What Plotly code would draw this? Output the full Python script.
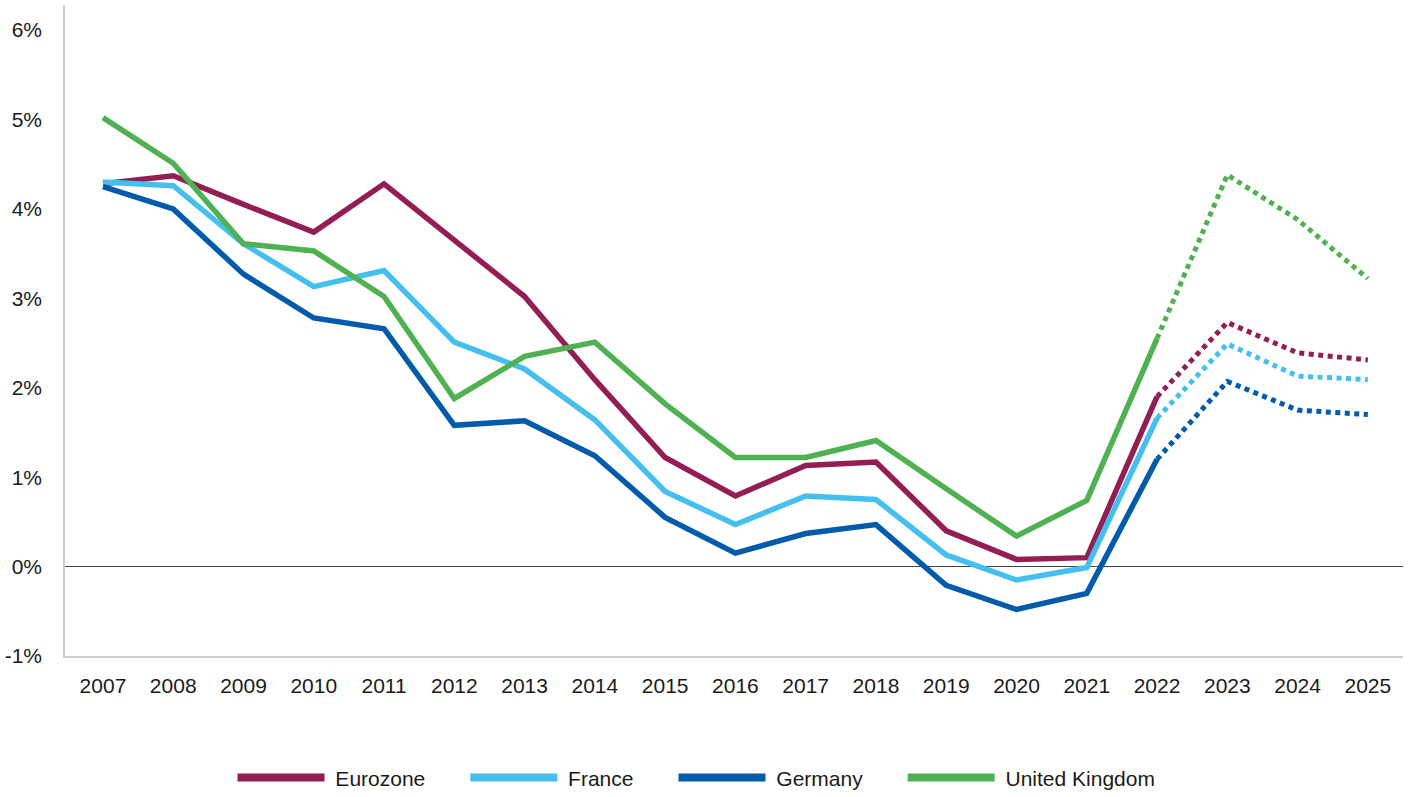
import plotly.graph_objects as go

years = list(range(2007, 2026))
year_labels = [str(y) for y in years]

eurozone = [4.28, 4.37, 4.05, 3.74, 4.28, 3.65, 3.02, 2.09, 1.22, 0.79, 1.13, 1.17, 0.40, 0.08, 0.10, 1.90, 2.73, 2.39, 2.31]
france   = [4.30, 4.26, 3.61, 3.13, 3.31, 2.51, 2.21, 1.64, 0.84, 0.47, 0.79, 0.75, 0.13, -0.15, -0.01, 1.66, 2.49, 2.13, 2.09]
germany  = [4.25, 4.00, 3.27, 2.78, 2.66, 1.58, 1.63, 1.24, 0.55, 0.15, 0.37, 0.47, -0.21, -0.48, -0.30, 1.20, 2.07, 1.75, 1.70]
uk       = [5.02, 4.51, 3.61, 3.53, 3.02, 1.88, 2.35, 2.51, 1.82, 1.22, 1.22, 1.41, 0.87, 0.34, 0.74, 2.55, 4.38, 3.88, 3.22]

series_names = ["Eurozone", "France", "Germany", "United Kingdom"]
series_values = [eurozone, france, germany, uk]
colors = ["#921E54", "#45BFEE", "#005BAA", "#50B153"]

last_actual = 2022
split = years.index(last_actual)

NB = "\u00a0"

fig = go.Figure()
for name, vals, col in zip(series_names, series_values, colors):
    # forecast (dotted)
    fig.add_trace(go.Scatter(
        x=years[split:], y=vals[split:], mode="lines",
        line=dict(color=col, width=5, dash="5px,4.5px"),
        showlegend=False, hoverinfo="skip"))
for name, vals, col in zip(series_names, series_values, colors):
    # actual (solid)
    fig.add_trace(go.Scatter(
        x=years[:split + 1], y=vals[:split + 1], mode="lines",
        line=dict(color=col, width=5.5), name=name, showlegend=False))
for i, (name, col) in enumerate(zip(series_names, colors)):
    label = NB + name + (NB * 6 if i < len(series_names) - 1 else "")
    fig.add_trace(go.Scatter(
        x=[None], y=[None], mode="lines",
        line=dict(color=col, width=8), name=label, showlegend=True))

fig.update_layout(
    width=1418, height=797,
    margin=dict(l=65, r=15, t=5, b=141),
    paper_bgcolor="white", plot_bgcolor="white",
    font=dict(family="Liberation Sans, Arial, sans-serif", size=21, color="#1a1a1a"),
    showlegend=True,
    legend=dict(orientation="h", x=0.472, xanchor="center",
                yref="container", y=0.024, yanchor="middle",
                itemwidth=87, font=dict(size=21), traceorder="normal"),
    xaxis=dict(
        range=[2006.46, 2025.5], tickmode="array", tickvals=years, ticktext=year_labels,
        showgrid=False, zeroline=False, showline=True, linecolor="#cccccc", linewidth=1.5,
        ticks="", ticklabelstandoff=10, tickfont=dict(size=21), automargin=False),
    yaxis=dict(
        range=[-1, 6.28], tickmode="array", tickvals=[-1, 0, 1, 2, 3, 4, 5, 6],
        ticktext=["-1%", "0%", "1%", "2%", "3%", "4%", "5%", "6%"],
        showgrid=False, zeroline=True, zerolinecolor="#444444", zerolinewidth=1.2,
        showline=True, linecolor="#cccccc", linewidth=1.5,
        ticks="", ticklabelstandoff=17, tickfont=dict(size=21), automargin=False),
)

fig.write_html("out.html", config={"displayModeBar": False},
               post_script="document.body.style.margin='0';document.body.style.overflow='hidden';")
